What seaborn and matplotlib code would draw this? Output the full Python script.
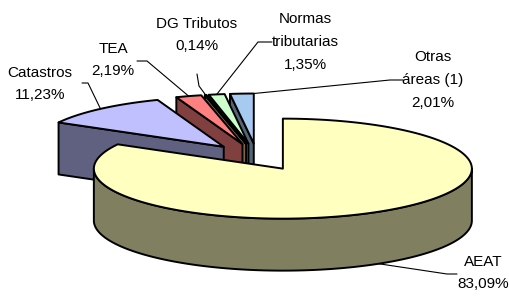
import numpy as np
import matplotlib
matplotlib.use("Agg")
import matplotlib.pyplot as plt
from matplotlib.patches import Polygon
import seaborn as sns

# data (shares in %), in drawing order clockwise from 12 o'clock
labels = ["AEAT", "Catastros", "TEA", "DG Tributos", "Normas\ntributarias", "Otras\náreas (1)"]
values = [83.09, 11.23, 2.19, 0.14, 1.35, 2.01]
top_colors = ["#FFFFC0", "#C0C0FF", "#FF8080", "#FFCC99", "#CCFFCC", "#A6CAF0"]

# layout in pixel units of the 509x296 image
label_xy = [(483, 273), (40, 84), (113, 60), (197, 35), (305, 42), (433, 80)]
knee_xy = [(447, 274), (88, 83), (147, 61), (199, 86), (258, 42), (390, 80)]
tail_xy = [(457, 274), (82, 83), (137, 61), (197, 74), (272, 42), (403, 80)]

sns.set_style("white")
plt.rcParams['font.family'] = ['Liberation Sans', 'DejaVu Sans']

CX, CY = 257, 157      # pie center
RX, RY = 189, 50       # ellipse radii
DEPTH = 52
EXPLODE = 0.27

def pt(c, th, r=1.0, dz=0.0):
    return (c[0] + r * RX * np.sin(th), c[1] - r * RY * np.cos(th) + dz)

def arc(c, a, b, dz=0.0, n=None):
    if n is None:
        n = max(2, int(abs(b - a) / np.radians(1)) + 2)
    ts = np.linspace(a, b, n)
    return [pt(c, t, 1.0, dz) for t in ts]

def darker(hexc):
    r, g, b = matplotlib.colors.to_rgb(hexc)
    return (r * 0.5, g * 0.5, b * 0.5)

fig = plt.figure(figsize=(5.09, 2.96), dpi=100)
ax = fig.add_axes([0, 0, 1, 1])
ax.set_xlim(0, 509)
ax.set_ylim(296, 0)
ax.axis("off")

total = sum(values)
bounds = np.concatenate([[0], np.cumsum(values)]) / total * 2 * np.pi
lw = 1.4

slices = []
for i in range(len(values)):
    th0, th1 = bounds[i], bounds[i + 1]
    mid = (th0 + th1) / 2
    c = (CX + EXPLODE * RX * np.sin(mid), CY - EXPLODE * RY * np.cos(mid))
    slices.append((th0, th1, mid, c))

# back slices first, AEAT last
for i in reversed(range(len(values))):
    th0, th1, mid, c = slices[i]
    side = darker(top_colors[i])
    faces = []
    # radial walls
    if np.sin(th0) < -1e-6:
        a, b = pt(c, th0), pt(c, 0, 0)
        faces.append([b, a, (a[0], a[1] + DEPTH), (b[0], b[1] + DEPTH)])
    if np.sin(th1) > 1e-6:
        a, b = pt(c, th1), pt(c, 0, 0)
        faces.append([b, a, (a[0], a[1] + DEPTH), (b[0], b[1] + DEPTH)])
    # outer wall, front half only
    lo, hi = max(th0, np.pi / 2), min(th1, 3 * np.pi / 2)
    if hi > lo:
        up = arc(c, lo, hi)
        down = arc(c, hi, lo, DEPTH)
        faces.append(up + down)
    for f in faces:
        ax.add_patch(Polygon(f, closed=True, facecolor=side, edgecolor="black",
                             linewidth=lw, joinstyle="round"))
    top = [pt(c, 0, 0)] + arc(c, th0, th1)
    ax.add_patch(Polygon(top, closed=True, facecolor=top_colors[i], edgecolor="black",
                         linewidth=lw, joinstyle="round"))

# labels with leader lines
for i in range(len(values)):
    th0, th1, mid, c = slices[i]
    if np.cos(mid) < 0:
        anchor = pt(c, mid, 1.0, DEPTH)
    elif i == len(values) - 1:
        anchor = pt(c, th1, 1.0)
    else:
        anchor = pt(c, mid, 1.0)
    pct = f"{values[i]:.2f}".replace(".", ",") + "%"
    ax.text(label_xy[i][0], label_xy[i][1], labels[i] + "\n" + pct, ha="center", va="center",
            fontsize=11, linespacing=1.8, color="black")
    xs = [tail_xy[i][0], knee_xy[i][0], anchor[0]]
    ys = [tail_xy[i][1], knee_xy[i][1], anchor[1]]
    ax.plot(xs, ys, color="black", linewidth=0.8)

fig.savefig("out.png", dpi=100)
